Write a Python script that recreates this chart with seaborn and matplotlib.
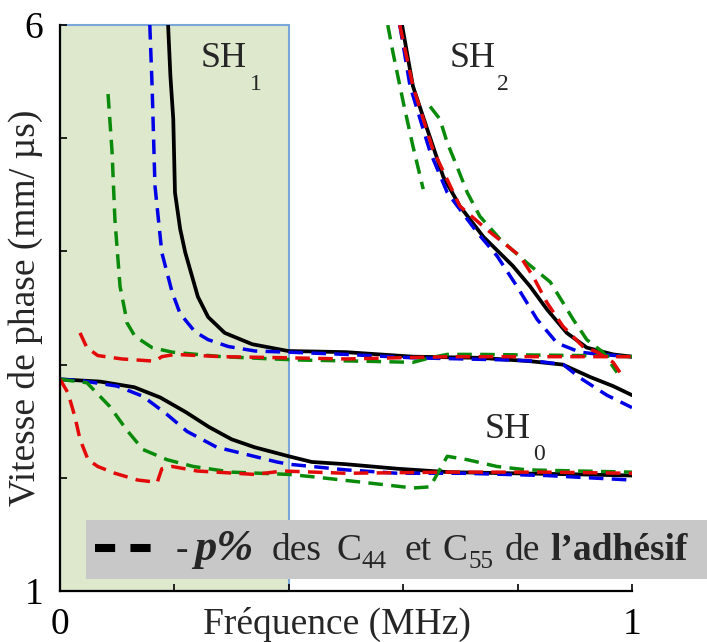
import pandas as pd
import seaborn as sns
import matplotlib.pyplot as plt
from matplotlib.patches import Rectangle
from matplotlib.lines import Line2D

# axes ticks
x_ticks = [0, 0.2, 0.4, 0.6, 0.8, 1.0]
x_tick_labels = ['0', '', '', '', '', '1']
y_ticks = [1, 2, 3, 4, 5, 6]
y_tick_labels = ['1', '', '', '', '', '6']

# SH0 - reference (black) and the three reduced stiffness cases
sh0_ref_x = [0, 0.07, 0.13, 0.175, 0.22, 0.26, 0.30, 0.34, 0.40, 0.44, 0.50, 0.59, 0.68, 0.79, 0.91, 1.0]
sh0_ref_y = [2.87, 2.85, 2.80, 2.71, 2.58, 2.45, 2.34, 2.27, 2.19, 2.14, 2.12, 2.08, 2.05, 2.04, 2.03, 2.02]
sh0_blue_x = [0, 0.035, 0.10, 0.145, 0.187, 0.222, 0.274, 0.315, 0.379, 0.40, 0.50, 0.59, 0.705, 0.85, 1.0]
sh0_blue_y = [2.87, 2.86, 2.81, 2.72, 2.56, 2.41, 2.27, 2.22, 2.14, 2.12, 2.07, 2.04, 2.04, 2.02, 1.98]
sh0_green_x = [0, 0.047, 0.087, 0.117, 0.145, 0.187, 0.233, 0.30, 0.40, 0.44, 0.53, 0.617, 0.647, 0.677, 0.712, 0.764, 0.816, 1.0]
sh0_green_y = [2.87, 2.84, 2.63, 2.42, 2.25, 2.16, 2.10, 2.05, 2.03, 2.01, 1.96, 1.91, 1.92, 2.19, 2.16, 2.10, 2.07, 2.05]
sh0_red_x = [0, 0.014, 0.026, 0.035, 0.049, 0.066, 0.096, 0.136, 0.17, 0.178, 0.196, 0.24, 0.34, 0.39, 0.50, 0.68, 0.85, 1.0]
sh0_red_y = [2.87, 2.75, 2.54, 2.34, 2.16, 2.10, 2.04, 1.98, 1.96, 2.08, 2.10, 2.06, 2.03, 2.06, 2.04, 2.05, 2.05, 2.04]

# SH1
sh1_ref_x = [0.189, 0.193, 0.198, 0.201, 0.21, 0.219, 0.241, 0.259, 0.288, 0.336, 0.399, 0.50, 0.617, 0.734, 0.822, 0.879, 0.927, 0.967, 1.0]
sh1_ref_y = [6.0, 5.55, 5.17, 4.52, 4.2, 3.99, 3.60, 3.42, 3.28, 3.18, 3.12, 3.11, 3.07, 3.06, 3.03, 3.00, 2.89, 2.81, 2.73]
sh1_blue_x = [0.157, 0.161, 0.166, 0.178, 0.196, 0.21, 0.236, 0.259, 0.294, 0.341, 0.399, 0.50, 0.617, 0.705, 0.792, 0.834, 0.88, 0.91, 0.956, 1.0]
sh1_blue_y = [6.0, 5.46, 4.58, 3.99, 3.64, 3.45, 3.29, 3.22, 3.16, 3.12, 3.11, 3.09, 3.06, 3.05, 3.04, 3.03, 3.00, 2.88, 2.73, 2.62]
sh1_green_x = [0.084, 0.091, 0.096, 0.105, 0.114, 0.117, 0.131, 0.161, 0.196, 0.283, 0.371, 0.423, 0.53, 0.617, 0.647, 0.677, 0.734, 0.909, 1.0]
sh1_green_y = [5.39, 4.88, 4.28, 3.69, 3.46, 3.37, 3.25, 3.15, 3.11, 3.07, 3.05, 3.04, 3.03, 3.02, 3.06, 3.09, 3.09, 3.08, 3.07]
sh1_red_x = [0.035, 0.047, 0.066, 0.108, 0.166, 0.178, 0.201, 0.283, 0.399, 0.50, 0.68, 0.85, 1.0]
sh1_red_y = [3.28, 3.15, 3.08, 3.05, 3.03, 3.07, 3.09, 3.07, 3.06, 3.05, 3.07, 3.07, 3.07]

# SH2
sh2_ref_x = [0.598, 0.617, 0.642, 0.670, 0.699, 0.740, 0.792, 0.822, 0.851, 0.886, 0.921, 0.967, 1.0]
sh2_ref_y = [6.0, 5.46, 5.08, 4.66, 4.40, 4.13, 3.87, 3.69, 3.49, 3.28, 3.15, 3.09, 3.07]
sh2_blue_x = [0.594, 0.612, 0.647, 0.677, 0.729, 0.764, 0.799, 0.834, 0.869, 0.909, 0.944, 1.0]
sh2_blue_y = [6.0, 5.46, 4.88, 4.52, 4.17, 3.96, 3.69, 3.40, 3.19, 3.11, 3.09, 3.07]
sh2_green_a_x = [0.573, 0.582, 0.600, 0.617, 0.635]
sh2_green_a_y = [6.0, 5.76, 5.32, 4.93, 4.55]
sh2_green_b_x = [0.647, 0.664, 0.677, 0.694, 0.712, 0.734, 0.769, 0.816, 0.857, 0.879, 0.897, 0.921, 0.949, 0.974]
sh2_green_b_y = [5.28, 5.17, 4.96, 4.75, 4.52, 4.31, 4.11, 3.90, 3.73, 3.55, 3.40, 3.22, 3.11, 2.93]
sh2_red_x = [0.594, 0.617, 0.652, 0.699, 0.747, 0.804, 0.827, 0.851, 0.879, 0.914, 0.939, 0.967, 0.979]
sh2_red_y = [6.0, 5.46, 4.90, 4.40, 4.19, 3.96, 3.78, 3.55, 3.34, 3.16, 3.11, 3.02, 2.93]

BLUE = '#0000e6'
GREEN = '#0a8a0a'
RED = '#e30a0a'

sns.set_style('ticks')
plt.rcParams['font.family'] = ['Liberation Serif', 'DejaVu Serif']

W, H = 707, 642
fig = plt.figure(figsize=(W / 100, H / 100), dpi=100)
ax = fig.add_axes([60 / W, 1 - 591 / H, 572 / W, 566 / H])

def fx(px):
    return px / W

def fy(py):
    return 1 - py / H

# shaded SH1 zone
ax.add_patch(Rectangle((0, 1), 0.4, 5, facecolor='#dee8cd', edgecolor='#7aa7d9',
                       lw=1.5, zorder=0.5, clip_on=False))

dash = (0, (4.2, 2.4))
series = [
    (sh0_ref_x, sh0_ref_y, 'black'), (sh1_ref_x, sh1_ref_y, 'black'), (sh2_ref_x, sh2_ref_y, 'black'),
    (sh0_blue_x, sh0_blue_y, BLUE), (sh1_blue_x, sh1_blue_y, BLUE), (sh2_blue_x, sh2_blue_y, BLUE),
    (sh0_green_x, sh0_green_y, GREEN), (sh1_green_x, sh1_green_y, GREEN),
    (sh2_green_a_x, sh2_green_a_y, GREEN), (sh2_green_b_x, sh2_green_b_y, GREEN),
    (sh0_red_x, sh0_red_y, RED), (sh1_red_x, sh1_red_y, RED), (sh2_red_x, sh2_red_y, RED),
]
for xs, ys, c in series:
    df = pd.DataFrame({'f': xs, 'v': ys})
    if c == 'black':
        sns.lineplot(data=df, x='f', y='v', color=c, lw=2.7, sort=False, estimator=None, ax=ax)
    else:
        sns.lineplot(data=df, x='f', y='v', color=c, lw=2.5, linestyle=dash, sort=False,
                     estimator=None, ax=ax)

ax.set_xlim(0, 1)
ax.set_ylim(1, 6)
ax.set_xticks(x_ticks)
ax.set_xticklabels(x_tick_labels)
ax.set_yticks(y_ticks)
ax.set_yticklabels(y_tick_labels)
ax.tick_params(direction='in', length=5, width=1.2, labelsize=27, pad=12, colors='black')
for s in ['top', 'right']:
    ax.spines[s].set_visible(False)
for s in ['left', 'bottom']:
    ax.spines[s].set_color('black')
    ax.spines[s].set_linewidth(1.6)
ax.set_facecolor('white')

ax.set_xlabel('Fréquence (MHz)', fontsize=27)
ax.xaxis.set_label_coords(0.484, -0.028)
ax.set_ylabel('Vitesse de phase (mm/ µs)', fontsize=27)
ax.yaxis.set_label_coords(-0.03, (591 - 308) / 566)

# mode labels
for xs, ys, sub, xsub, ysub in [(0.245, 5.63, '1', 0.332, 5.43),
                                 (0.682, 5.63, '2', 0.764, 5.43),
                                 (0.743, 2.35, '0', 0.827, 2.16)]:
    ax.text(xs, ys, 'SH', fontsize=26, va='baseline', ha='left')
    ax.text(xsub, ysub, sub, fontsize=17, va='baseline', ha='left')

# caption box
fig.add_artist(Rectangle((fx(86), fy(579)), fx(W - 86), 59 / H, facecolor='#c8c8c8',
                         edgecolor='none', transform=fig.transFigure, zorder=5))
fig.add_artist(Line2D([fx(95), fx(153)], [fy(548), fy(548)], color='black', lw=5.8,
                      linestyle=(0, (2.5, 1.9)), transform=fig.transFigure, zorder=6))
base = fy(560)
sub_base = fy(568)
fig.text(fx(176), base, '-', fontsize=27, va='baseline', zorder=6)
fig.text(fx(194), base, 'p%', fontsize=32, va='baseline', fontweight='bold', fontstyle='italic', zorder=6)
fig.text(fx(272), base, 'des', fontsize=27, va='baseline', zorder=6)
fig.text(fx(336), base, 'C', fontsize=27, va='baseline', zorder=6)
fig.text(fx(362), sub_base, '44', fontsize=18, va='baseline', zorder=6)
fig.text(fx(405), base, 'et', fontsize=27, va='baseline', zorder=6)
fig.text(fx(442), base, 'C', fontsize=27, va='baseline', zorder=6)
fig.text(fx(468), sub_base, '55', fontsize=18, va='baseline', zorder=6)
fig.text(fx(505), base, 'de', fontsize=27, va='baseline', zorder=6)
fig.text(fx(550), base, 'l’adhésif', fontsize=27, va='baseline', fontweight='bold', zorder=6)

fig.savefig('out.png', dpi=100)
